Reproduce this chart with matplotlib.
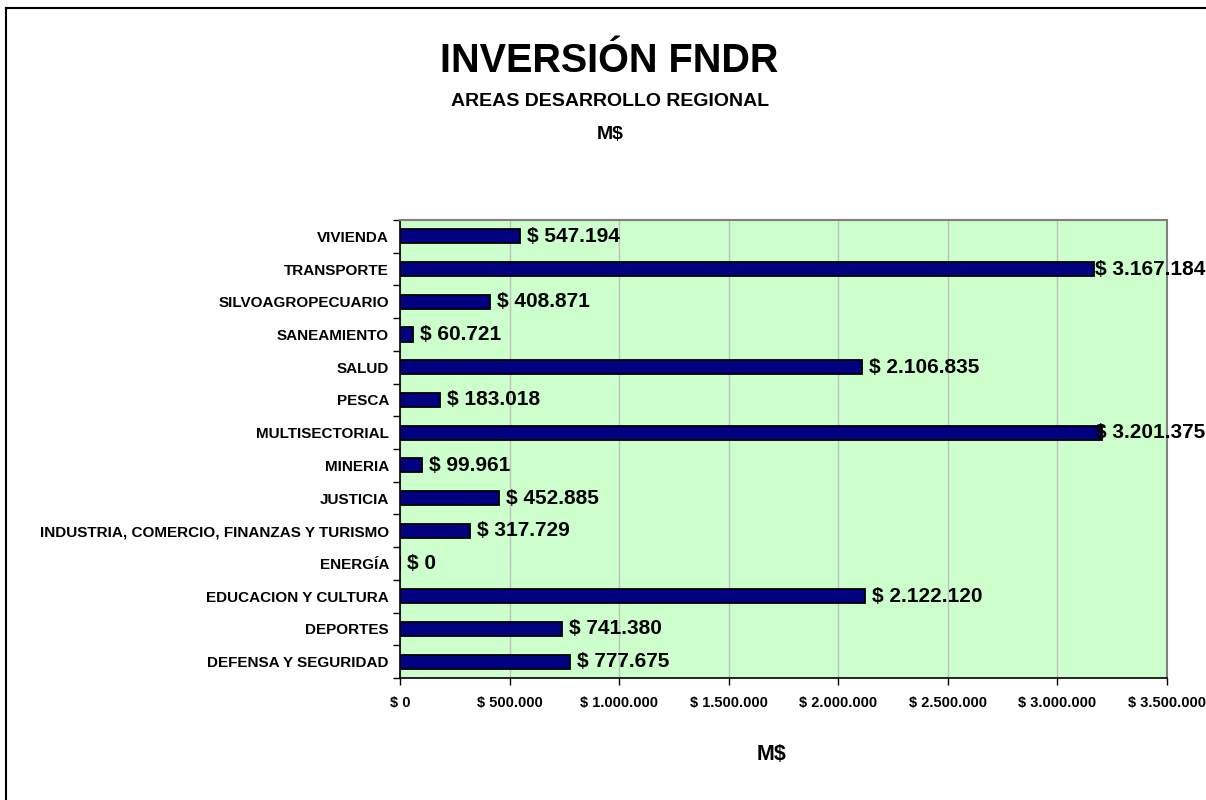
import matplotlib
matplotlib.use("Agg")
import matplotlib.pyplot as plt
from matplotlib.ticker import FuncFormatter, FixedLocator
import numpy as np

plt.rcParams['font.family'] = ['Liberation Sans', 'DejaVu Sans']

categories = ["DEFENSA Y SEGURIDAD", "DEPORTES", "EDUCACION Y CULTURA", "ENERGÍA",
              "INDUSTRIA, COMERCIO, FINANZAS Y TURISMO", "JUSTICIA", "MINERIA",
              "MULTISECTORIAL", "PESCA", "SALUD", "SANEAMIENTO", "SILVOAGROPECUARIO",
              "TRANSPORTE", "VIVIENDA"]
values = [777675, 741380, 2122120, 0, 317729, 452885, 99961,
          3201375, 183018, 2106835, 60721, 408871, 3167184, 547194]
x_max = 3500000
x_step = 500000

def fmt_money(v):
    s = f"{int(round(v)):,}".replace(",", ".")
    return f"$ {s}"

W, H = 1206, 800
fig = plt.figure(figsize=(W/100, H/100), dpi=100)

# outer border
fig.add_artist(plt.Line2D([6/W, 6/W], [0, 1 - 8/H], transform=fig.transFigure, color='black', lw=1.5))
fig.add_artist(plt.Line2D([6/W, 1], [1 - 8/H, 1 - 8/H], transform=fig.transFigure, color='black', lw=1.5))

left, right, top, bottom = 400, 1167, 220, 678
ax = fig.add_axes([left/W, 1 - bottom/H, (right-left)/W, (bottom-top)/H])
ax.set_facecolor('#CCFFCC')

y = np.arange(len(categories))
ax.barh(y, values, height=0.43, color='#000080', edgecolor='black', linewidth=1.3, zorder=3)

ax.set_xlim(0, x_max)
ax.set_ylim(-0.5, len(categories) - 0.5)
ax.set_xticks(np.arange(0, x_max + 1, x_step))
ax.xaxis.set_major_formatter(FuncFormatter(lambda v, p: fmt_money(v)))
ax.grid(axis='x', color='#C0C0C0', lw=1, zorder=0)
ax.set_axisbelow(True)

ax.set_yticks(y)
ax.set_yticklabels(categories, fontsize=11, fontweight='bold')
ax.yaxis.set_minor_locator(FixedLocator(np.arange(-0.5, len(categories), 1)))
ax.tick_params(axis='y', which='major', length=0, pad=8)
ax.tick_params(axis='y', which='minor', length=5, width=1, direction='out')
ax.tick_params(axis='x', length=5, width=1, direction='out', pad=8, labelsize=10.5)
for lab in ax.get_xticklabels():
    lab.set_fontweight('bold')

for s in ['top', 'right']:
    ax.spines[s].set_color('#808080')
    ax.spines[s].set_linewidth(1.5)
for s in ['left', 'bottom']:
    ax.spines[s].set_color('black')
    ax.spines[s].set_linewidth(1.2)

# value labels; shift left where they would leave the figure
fig.canvas.draw()
renderer = fig.canvas.get_renderer()
for yi, v in zip(y, values):
    t = ax.annotate(fmt_money(v), (v, yi), xytext=(7, 0), textcoords='offset pixels',
                    ha='left', va='center', fontsize=15, fontweight='bold', zorder=4,
                    annotation_clip=False)
    bb = t.get_window_extent(renderer)
    if bb.x1 > W - 1:
        t.xyann = (7 - (bb.x1 - (W - 1)), 0)

fig.text(609/W, 1 - 72.5/H, "INVERSIÓN FNDR", ha='center', va='baseline', fontsize=28.5, fontweight='bold')
fig.text(610/W, 1 - 106.5/H, "AREAS DESARROLLO REGIONAL", ha='center', va='baseline', fontsize=14, fontweight='bold')
fig.text(610/W, 1 - 139/H, "M$", ha='center', va='baseline', fontsize=14, fontweight='bold')
fig.text(772/W, 1 - 760/H, "M$", ha='center', va='baseline', fontsize=15.5, fontweight='bold')

fig.savefig("out.png", dpi=100)
